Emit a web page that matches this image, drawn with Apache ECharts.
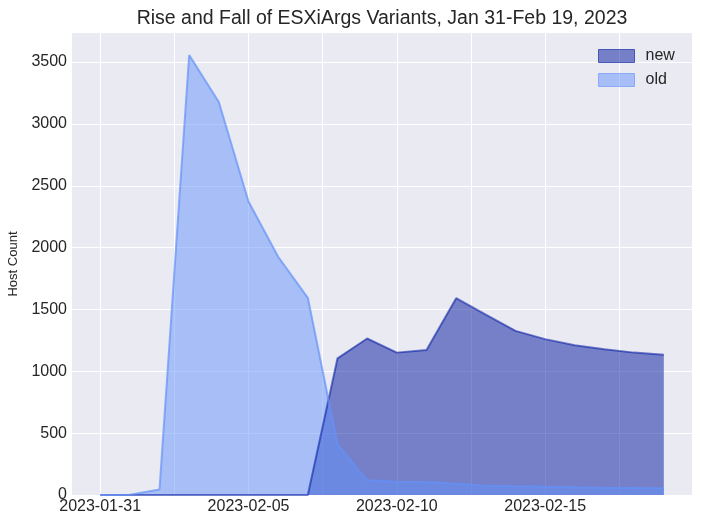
<!DOCTYPE html>
<html>
<head>
<meta charset="utf-8">
<script src="https://cdn.jsdelivr.net/npm/echarts@6/dist/echarts.min.js"></script>
<style>
html,body{margin:0;padding:0;background:#ffffff;}
#chart{width:701px;height:525px;}
</style>
</head>
<body>
<div id="chart"></div>
<script>
const dates = ['2023-01-31','2023-02-01','2023-02-02','2023-02-03','2023-02-04','2023-02-05','2023-02-06','2023-02-07','2023-02-08','2023-02-09','2023-02-10','2023-02-11','2023-02-12','2023-02-13','2023-02-14','2023-02-15','2023-02-16','2023-02-17','2023-02-18','2023-02-19'];
const newCounts = [0,0,0,0,0,0,0,0,1105,1265,1151,1173,1591,1458,1327,1260,1211,1179,1151,1133];
const oldCounts = [0,3,45,3557,3177,2373,1926,1594,410,119,108,105,91,75,70,67,62,59,57,54];
const xLabelValues = [0,5,10,15];
const xGridValues = [0,2.5,5,7.5,10,12.5,15,17.5];
const yTickValues = [0,500,1000,1500,2000,2500,3000,3500];

const font = "'Liberation Sans', Arial, Helvetica, sans-serif";
const newBase = [0,22,160];
const oldBase = [100,145,250];
const rgba = (c,a) => `rgba(${c[0]},${c[1]},${c[2]},${a})`;

const newData = newCounts.map((v,i)=>[i,v]);
const oldData = oldCounts.map((v,i)=>[i,v]);
const n = dates.length - 1;
const margin = n * 0.05;
const yMax = Math.max(...oldCounts, ...newCounts) * 1.05;

const chart = echarts.init(document.getElementById('chart'), null, {renderer:'canvas'});
chart.setOption({
  backgroundColor: '#ffffff',
  animation: false,
  textStyle: {fontFamily: font},
  title: {
    text: 'Rise and Fall of ESXiArgs Variants, Jan 31-Feb 19, 2023',
    left: 377, textAlign: 'center', top: 4,
    textStyle: {fontFamily: font, fontSize: 19.5, fontWeight: 'normal', color: '#262626'}
  },
  legend: {
    orient: 'vertical',
    left: 593, top: 43,
    itemWidth: 36, itemHeight: 13, itemGap: 8,
    textStyle: {fontFamily: font, fontSize: 16, color: '#262626', padding:[0,0,0,6]},
    data: [
      {name: 'new', icon: 'rect', itemStyle: {color: rgba(newBase,0.5), borderColor: rgba(newBase,0.6), borderWidth: 1}},
      {name: 'old', icon: 'rect', itemStyle: {color: rgba(oldBase,0.5), borderColor: rgba(oldBase,0.6), borderWidth: 1}}
    ]
  },
  grid: {
    left: 72, right: 9, top: 33, bottom: 30,
    outerBoundsMode: 'none', containLabel: false,
    show: true, backgroundColor: '#eaeaf2', borderWidth: 0
  },
  xAxis: {
    type: 'value',
    min: -margin, max: n + margin,
    axisLine: {show: false},
    axisTick: {show: false, customValues: xGridValues},
    splitLine: {show: true, lineStyle: {color: '#ffffff', width: 1}},
    axisLabel: {
      customValues: xLabelValues,
      formatter: v => dates[Math.round(v)] || '',
      fontFamily: font, fontSize: 16, color: '#262626', margin: 4
    }
  },
  yAxis: {
    type: 'value',
    min: 0, max: yMax,
    name: 'Host Count',
    nameLocation: 'middle', nameRotate: 90, nameGap: 52,
    nameTextStyle: {fontFamily: font, fontSize: 13, color: '#262626'},
    axisLine: {show: false},
    axisTick: {show: false, customValues: yTickValues},
    splitLine: {show: true, lineStyle: {color: '#ffffff', width: 1}},
    axisLabel: {
      customValues: yTickValues,
      formatter: v => String(v),
      fontFamily: font, fontSize: 16, color: '#262626', margin: 5
    }
  },
  series: [
    {name: 'new', type: 'line', data: newData, showSymbol: false, z: 2,
     lineStyle: {width: 0, opacity: 0}, areaStyle: {color: rgba(newBase,0.5), opacity: 1, origin: 'start'}},
    {name: 'old', type: 'line', data: oldData, showSymbol: false, z: 3,
     lineStyle: {width: 0, opacity: 0}, areaStyle: {color: rgba(oldBase,0.5), opacity: 1, origin: 'start'}},
    {name: 'new_line', type: 'line', data: newData, showSymbol: false, z: 4,
     lineStyle: {width: 2, color: rgba(newBase,0.55)}},
    {name: 'old_line', type: 'line', data: oldData, showSymbol: false, z: 5,
     lineStyle: {width: 2, color: rgba(oldBase,0.7)}}
  ]
});
</script>
</body>
</html>
